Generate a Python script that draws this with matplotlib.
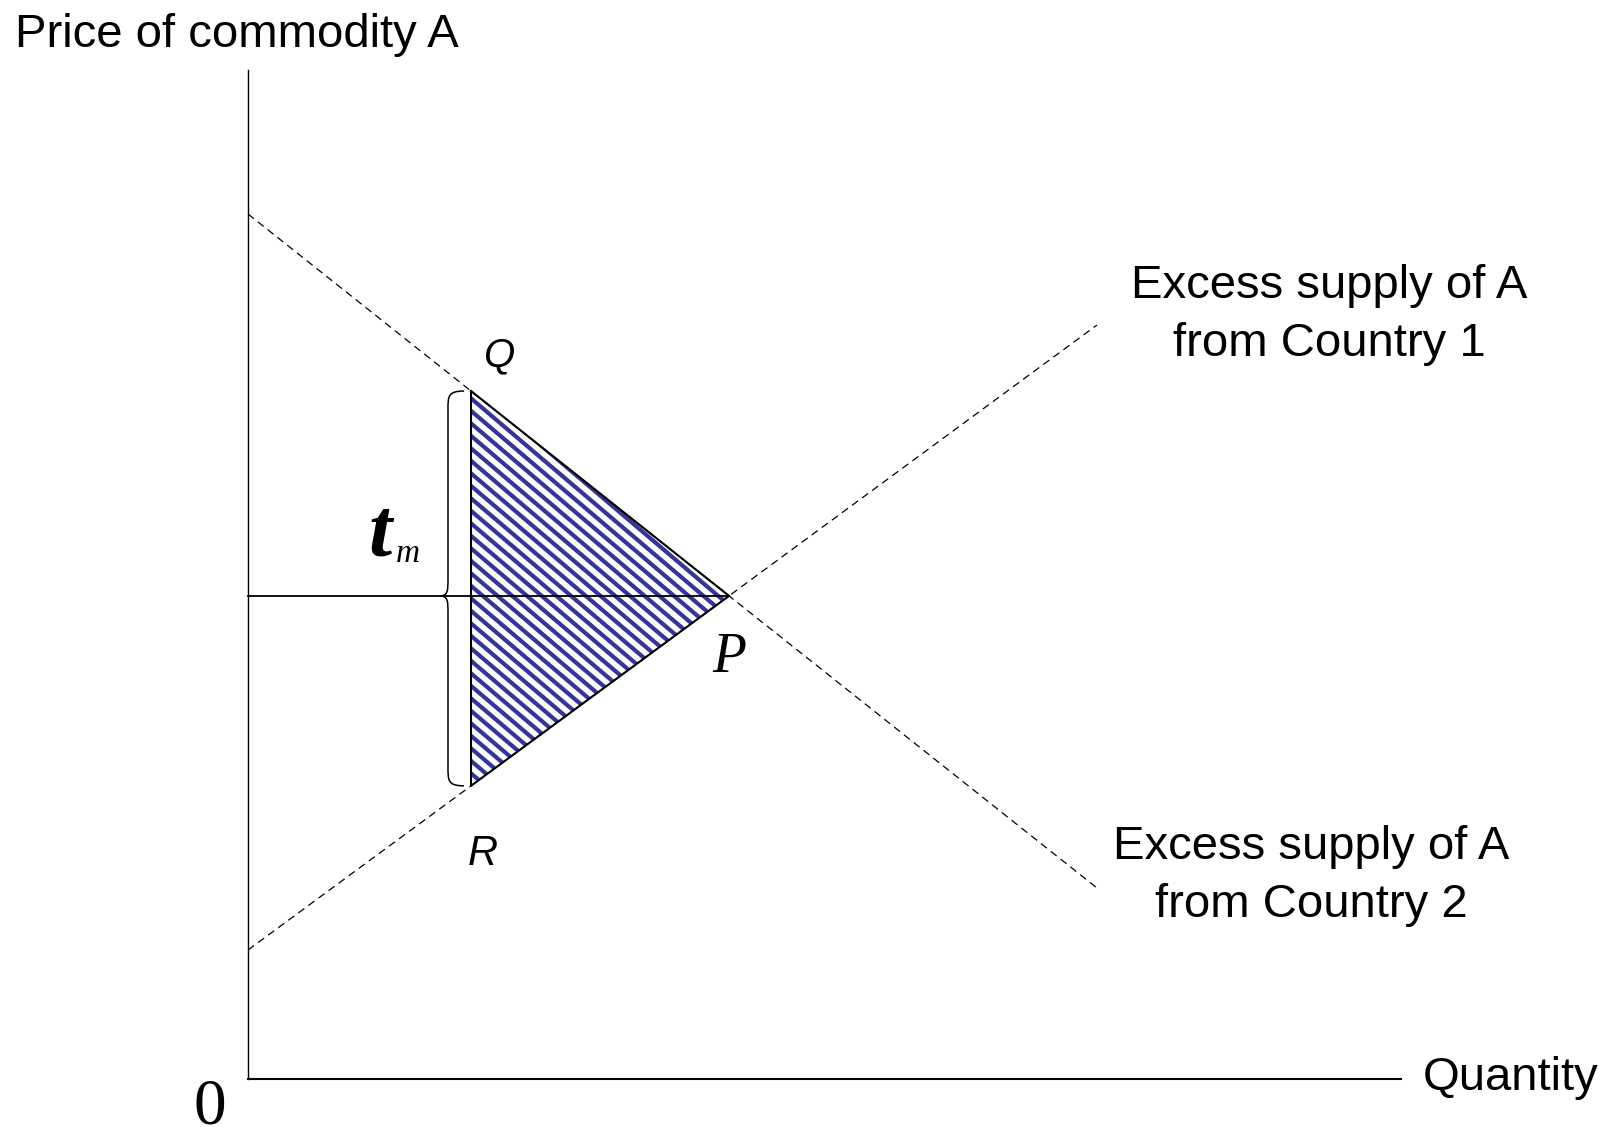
import numpy as np
import matplotlib.pyplot as plt
from matplotlib.path import Path
from matplotlib.patches import Polygon, PathPatch
from matplotlib.collections import LineCollection

# values (quantity / price units, origin at 0)
q_ends = [0.0, 8.49]
es1_price = [1.29, 7.54]   # excess supply from Country 1 (rising)
es2_price = [8.65, 1.91]   # excess supply from Country 2 (falling)
q_tariff = 2.23
axis_len_q = 11.53
axis_len_p = 10.09

sans = ['Liberation Sans', 'DejaVu Sans']
serif = ['Liberation Serif', 'DejaVu Serif']


def line_at(q, qs, ps):
    return ps[0] + (ps[1] - ps[0]) * (q - qs[0]) / (qs[1] - qs[0])


# intersection P
s1 = (es1_price[1] - es1_price[0]) / (q_ends[1] - q_ends[0])
s2 = (es2_price[1] - es2_price[0]) / (q_ends[1] - q_ends[0])
qP = (es2_price[0] - es1_price[0]) / (s1 - s2)
pP = es1_price[0] + s1 * qP
pQ = line_at(q_tariff, q_ends, es2_price)
pR = line_at(q_tariff, q_ends, es1_price)

fig = plt.figure(figsize=(16.15, 11.32), dpi=100)
ax = fig.add_axes([0, 0, 1, 1])
ax.set_xlim(-2.48, 13.67)
ax.set_ylim(-0.53, 10.79)
ax.axis('off')

# axes
ax.plot([0, 0], [0, axis_len_p], color='black', lw=1.0)
ax.plot([0, axis_len_q], [0, 0], color='black', lw=1.5)

# dashed excess supply curves
ax.plot(q_ends, es1_price, color='black', lw=0.9, ls=(0, (6, 4)))
ax.plot(q_ends, es2_price, color='black', lw=0.9, ls=(0, (6, 4)))

# striped triangle
tri = Polygon([[q_tariff, pQ], [qP, pP], [q_tariff, pR]], closed=True,
              facecolor='none', edgecolor='none')
ax.add_patch(tri)
slope = -0.85
step = 0.125
offs = np.arange(pR - 1, pQ + 7, step)
x0, x1 = q_tariff - 0.2, qP + 0.2
segs = [[(x0, c + slope * (x0 - q_tariff)), (x1, c + slope * (x1 - q_tariff))] for c in offs]
lc = LineCollection(segs, colors='#34349a', linewidths=3.0)
ax.add_collection(lc)
lc.set_clip_path(tri)

ax.plot([q_tariff, qP, q_tariff, q_tariff], [pQ, pP, pR, pQ], color='black', lw=1.5)
ax.plot([0, qP], [pP, pP], color='black', lw=1.3)

# brace
xr, xm, xl = q_tariff - 0.07, q_tariff - 0.23, q_tariff - 0.31
r = 0.18
verts = [(xr, pQ), (xm, pQ), (xm, pQ - r * 0.3), (xm, pQ - r),
         (xm, pP + r),
         (xm, pP + r * 0.3), (xm, pP), (xl, pP),
         (xm, pP), (xm, pP - r * 0.3), (xm, pP - r),
         (xm, pR + r),
         (xm, pR + r * 0.3), (xm, pR), (xr, pR)]
codes = [Path.MOVETO, Path.CURVE4, Path.CURVE4, Path.CURVE4,
         Path.LINETO,
         Path.CURVE4, Path.CURVE4, Path.CURVE4,
         Path.CURVE4, Path.CURVE4, Path.CURVE4,
         Path.LINETO,
         Path.CURVE4, Path.CURVE4, Path.CURVE4]
ax.add_patch(PathPatch(Path(verts, codes), facecolor='none', edgecolor='black', lw=1.1))

# text
ax.text(-2.33, 10.32, 'Price of commodity A', family=sans, fontsize=34, va='baseline')
ax.text(11.75, -0.11, 'Quantity', family=sans, fontsize=34, va='baseline')
ax.text(-0.38, -0.44, '0', family=serif, fontsize=47, ha='center', va='baseline')
ax.text(10.81, 7.64, 'Excess supply of A\nfrom Country 1', family=sans, fontsize=34,
        ha='center', va='center', multialignment='center', linespacing=1.4)
ax.text(10.63, 2.03, 'Excess supply of A\nfrom Country 2', family=sans, fontsize=34,
        ha='center', va='center', multialignment='center', linespacing=1.4)
ax.text(2.51, 7.13, 'Q', family=sans, fontsize=29, style='italic', ha='center', va='baseline')
ax.text(2.35, 2.14, 'R', family=sans, fontsize=30, style='italic', ha='center', va='baseline')
ax.text(qP, 4.075, 'P', family=serif, fontsize=40, style='italic', ha='center', va='baseline')
ax.text(1.20, 5.23, 't', family=serif, fontsize=60, style='italic', weight='bold', va='baseline')
ax.text(1.48, 5.17, 'm', family=serif, fontsize=24, style='italic', va='baseline')

fig.savefig('out.png', dpi=100)
